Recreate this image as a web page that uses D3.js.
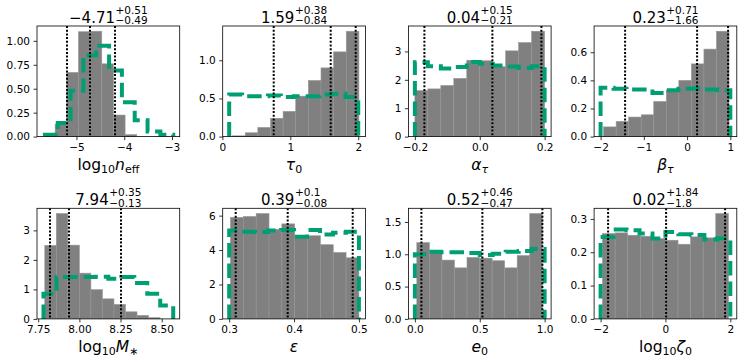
<!DOCTYPE html>
<html>
<head>
<meta charset="utf-8">
<script src="https://cdn.jsdelivr.net/npm/d3@7.9.0/dist/d3.min.js"></script>
<style>
  html, body { margin: 0; padding: 0; background: #fff; }
  svg { display: block; font-family: "DejaVu Sans", sans-serif; }
</style>
</head>
<body>
<svg id="chart" width="748" height="362"></svg>
<script>
// title numbers: median and errors
const medians  = [-4.71, 1.59, 0.04, 0.23, 7.94, 0.39, 0.52, 0.02];
const errPlus  = [0.51, 0.38, 0.15, 0.71, 0.35, 0.1, 0.46, 1.84];
const errMinus = [0.49, 0.84, 0.21, 1.66, 0.13, 0.08, 0.47, 1.8];

// dotted lines
const q16 = [-5.20, 0.75, -0.17, -1.43, 7.82, 0.31, 0.05, -1.77];
const q50 = [-4.71, 1.59, 0.04, 0.23, 7.94, 0.39, 0.52, 0.01];
const q84 = [-4.20, 1.97, 0.19, 0.94, 8.25, 0.49, 0.98, 1.84];

// posterior histogram (gray)
const postStart = [-5.69, 0.15, -0.2, -1.93, 7.79, 0.302, 0.015, -1.94];
const postWidth = [0.244, 0.186, 0.04, 0.29, 0.07, 0.0198, 0.0967, 0.388];
const postDensity = [
  [0.03, 0.13, 0.67, 1.095, 1.10, 0.76, 0.225, 0.02],
  [0.01, 0.05, 0.12, 0.24, 0.33, 0.53, 0.735, 0.90, 1.11, 1.38],
  [1.62, 1.68, 1.80, 2.05, 2.69, 2.67, 2.46, 3.02, 3.31, 3.71],
  [0.069, 0.108, 0.139, 0.155, 0.25, 0.33, 0.40, 0.517, 0.622, 0.749],
  [2.49, 3.57, 2.50, 1.55, 0.99, 0.68, 0.49, 0.24, 0.12, 0.04],
  [5.90, 5.95, 6.12, 5.20, 5.52, 4.70, 4.83, 4.31, 3.86, 3.55],
  [1.18, 1.06, 0.91, 0.79, 0.95, 0.94, 0.90, 0.79, 0.98, 1.63],
  [0.256, 0.258, 0.251, 0.248, 0.241, 0.236, 0.224, 0.246, 0.243, 0.316]
];

// prior histogram (green dashed step)
const priorStart = [-5.66, 0.1, -0.2, -2.0, 7.782, 0.3, 0.0, -2.0];
const priorWidth = [0.2685, 0.19, 0.04, 0.3, 0.0788, 0.02, 0.1, 0.4];
const priorDensity = [
  [0.02, 0.143, 0.48, 0.85, 0.95, 0.69, 0.36, 0.17, 0.053, 0.02],
  [0.55, 0.53, 0.53, 0.54, 0.52, 0.53, 0.53, 0.55, 0.56, 0.52],
  [2.62, 2.48, 2.40, 2.45, 2.63, 2.57, 2.50, 2.47, 2.42, 2.48],
  [0.347, 0.34, 0.335, 0.335, 0.31, 0.33, 0.34, 0.342, 0.335, 0.33],
  [0.85, 1.42, 1.42, 1.42, 1.43, 1.36, 1.42, 1.22, 0.85, 0.45],
  [5.13, 5.07, 5.05, 5.13, 5.17, 4.78, 5.17, 4.91, 5.00, 5.07],
  [1.00, 1.04, 1.03, 1.03, 1.02, 0.99, 1.01, 1.04, 1.05, 1.08],
  [0.246, 0.268, 0.266, 0.256, 0.241, 0.261, 0.254, 0.252, 0.238, 0.242]
];

// axis labels: [text, italic, subscript]
const xLabels = [
  [["log", 0, 0], ["10", 0, 1], ["n", 1, 0], ["eff", 0, 1]],
  [["τ", 1, 0], ["0", 0, 1]],
  [["α", 1, 0], ["τ", 1, 1]],
  [["β", 1, 0], ["τ", 1, 1]],
  [["log", 0, 0], ["10", 0, 1], ["M", 1, 0], ["∗", 0, 1]],
  [["ε", 1, 0]],
  [["e", 1, 0], ["0", 0, 1]],
  [["log", 0, 0], ["10", 0, 1], ["ζ", 1, 0], ["0", 0, 1]]
];

const xTicks = [[-5, -4, -3], [0, 1, 2], [-0.2, 0, 0.2], [-2, -1, 0, 1],
                [7.75, 8, 8.25, 8.5], [0.3, 0.4, 0.5], [0, 0.5, 1], [-2, 0, 2]];
const xFmt   = ['d', 'd', '.1f', 'd', '.2f', '.1f', '.1f', 'd'];
const yTicks = [[0, 0.25, 0.5, 0.75, 1], [0, 0.5, 1], [0, 1, 2, 3], [0, 0.2, 0.4, 0.6],
                [0, 1, 2, 3], [0, 2, 4, 6], [0, 0.5, 1, 1.5], [0, 0.1, 0.2, 0.3]];
const yFmt   = ['.2f', '.1f', 'd', '.1f', 'd', 'd', '.1f', '.1f'];

const GRAY = '#808080', GREEN = '#009e73';
const axW = 142.7, axH = 110.6;
const colX = c => 37 + c * 185.7;
const rowY = r => 26 + r * 182.3;

const svg = d3.select('#chart');
const minus = s => String(s).replace('-', '\u2212');

function edges (start, width, n) {
  return d3.range(n + 1).map(k => start + k * width);
}

function drawPanel (i) {
  const left = colX(i % 4), top = rowY(Math.floor(i / 4));
  const g = svg.append('g').attr('transform', `translate(${left},${top})`);

  const pe = edges(postStart[i], postWidth[i], postDensity[i].length);
  const re = edges(priorStart[i], priorWidth[i], priorDensity[i].length);
  const lo = Math.min(pe[0], re[0]), hi = Math.max(pe[pe.length - 1], re[re.length - 1]);
  const pad = (hi - lo) * 0.05;
  const ymax = d3.max([...postDensity[i], ...priorDensity[i]]) * 1.05;

  const x = d3.scaleLinear().domain([lo - pad, hi + pad]).range([0, axW]);
  const y = d3.scaleLinear().domain([0, ymax]).range([axH, 0]);

  const clipId = `clip${i}`;
  g.append('clipPath').attr('id', clipId)
    .append('rect').attr('width', axW).attr('height', axH);
  const plot = g.append('g').attr('clip-path', `url(#${clipId})`);

  // posterior bars
  plot.append('g').selectAll('rect')
    .data(postDensity[i])
    .join('rect')
      .attr('x', (d, k) => x(pe[k]))
      .attr('width', (d, k) => x(pe[k + 1]) - x(pe[k]))
      .attr('y', d => y(d))
      .attr('height', d => y(0) - y(d))
      .attr('fill', GRAY)
      .attr('stroke', '#969696')
      .attr('stroke-width', 0.6);

  // prior step
  const pts = [[re[0], 0]];
  priorDensity[i].forEach((d, k) => { pts.push([re[k], d]); pts.push([re[k + 1], d]); });
  pts.push([re[re.length - 1], 0]);
  plot.append('path')
    .attr('d', d3.line().x(p => x(p[0])).y(p => y(p[1]))(pts))
    .attr('fill', 'none')
    .attr('stroke', GREEN)
    .attr('stroke-width', 4)
    .attr('stroke-dasharray', '14.5 6');

  // quantile lines (snapped to whole pixels so the dots stay crisp)
  const snap = v => Math.round(x(v));
  plot.selectAll('line.q')
    .data([q16[i], q50[i], q84[i]])
    .join('line')
      .attr('class', 'q')
      .attr('x1', snap).attr('x2', snap)
      .attr('y1', 0).attr('y2', axH)
      .attr('stroke', '#000')
      .attr('stroke-width', 2)
      .attr('stroke-dasharray', '2 1.7');

  // axes
  const xa = g.append('g').attr('transform', `translate(0,${axH})`)
    .call(d3.axisBottom(x).tickValues(xTicks[i]).tickFormat(d3.format(xFmt[i]))
      .tickSize(3.5).tickPadding(3.5));
  const ya = g.append('g')
    .call(d3.axisLeft(y).tickValues(yTicks[i]).tickFormat(d3.format(yFmt[i]))
      .tickSize(3.5).tickPadding(3.5));
  [xa, ya].forEach(a => {
    a.select('.domain').remove();
    a.selectAll('line').attr('stroke', '#000').attr('stroke-width', 0.8);
    a.selectAll('text').attr('fill', '#000').style('font-size', '10.5px')
      .attr('font-family', '"DejaVu Sans", sans-serif');
  });

  g.append('rect').attr('width', axW).attr('height', axH)
    .attr('fill', 'none').attr('stroke', '#000').attr('stroke-width', 0.8);

  // title: median with asymmetric errors
  const t = g.append('g');
  const base = -3.3;
  const main = t.append('text').attr('y', base).style('font-size', '15px')
    .text(minus(medians[i]));
  const w1 = main.node().getComputedTextLength() + 0.5;
  const sup = t.append('text').attr('x', w1).attr('y', base - 9).style('font-size', '10.5px')
    .text('+' + errPlus[i]);
  const sub = t.append('text').attr('x', w1).attr('y', base + 1.5).style('font-size', '10.5px')
    .text('\u2212' + errMinus[i]);
  const w2 = Math.max(sup.node().getComputedTextLength(), sub.node().getComputedTextLength());
  t.attr('transform', `translate(${axW / 2 - (w1 + w2) / 2},0)`);

  // x label
  const lab = g.append('text')
    .attr('x', axW / 2).attr('y', axH + 33.4)
    .attr('text-anchor', 'middle')
    .style('font-size', '15.5px');
  let shifted = false;
  xLabels[i].forEach(([s, it, sb]) => {
    const sp = lab.append('tspan').text(s)
      .style('font-style', it ? 'italic' : 'normal')
      .style('font-size', sb ? '11px' : '15.5px');
    if (sb && !shifted) { sp.attr('dy', 3); shifted = true; }
    else if (!sb && shifted) { sp.attr('dy', -3); shifted = false; }
  });
}

d3.range(8).forEach(drawPanel);
</script>
</body>
</html>
